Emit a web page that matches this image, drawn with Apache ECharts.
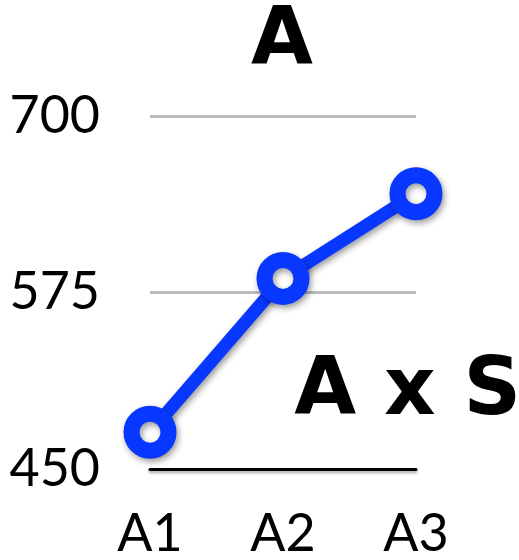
<!DOCTYPE html>
<html>
<head>
<meta charset="utf-8">
<script src="https://cdn.jsdelivr.net/npm/echarts@6/dist/echarts.min.js"></script>
<style>
  html, body { margin: 0; padding: 0; background: #fff; }
  #chart { width: 519px; height: 560px; }
</style>
</head>
<body>
<div id="chart"></div>
<script>
const categories = ['A1', 'A2', 'A3'];
const values = [476, 585, 645];
const titleText = 'A';
const noteText = 'A x S';

const chart = echarts.init(document.getElementById('chart'));

chart.setOption({
  animation: false,
  grid: { left: 150, right: 103, top: 116, bottom: 90 },
  xAxis: {
    type: 'category',
    data: categories,
    boundaryGap: false,
    axisLine: {
      lineStyle: { color: '#000', width: 3, shadowColor: 'rgba(0,0,0,0.35)', shadowBlur: 3, shadowOffsetY: 2 },
    },
    axisTick: { show: false },
    axisLabel: { color: '#000', fontSize: 52, fontFamily: 'Lato', margin: 39 },
  },
  yAxis: {
    type: 'value',
    min: 450,
    max: 700,
    interval: 125,
    axisLine: { show: false },
    axisTick: { show: false },
    axisLabel: { color: '#000', fontSize: 52, fontFamily: 'Lato', margin: 50 },
    splitLine: { lineStyle: { color: '#bbbbbb', width: 3 } },
  },
  graphic: [
    {
      type: 'text',
      x: 282,
      y: 43,
      style: {
        text: titleText,
        fill: '#000',
        font: 'bold 80px "DejaVu Sans"',
        align: 'center',
        verticalAlign: 'middle',
      },
    },
    {
      type: 'text',
      x: 521,
      y: 393,
      style: {
        text: noteText,
        fill: '#000',
        font: 'bold 80px "DejaVu Sans"',
        align: 'right',
        verticalAlign: 'middle',
      },
    },
  ],
  series: [
    {
      type: 'line',
      data: values,
      symbol: 'circle',
      symbolSize: 37,
      lineStyle: {
        color: '#0838ff',
        width: 13,
        shadowColor: 'rgba(0,0,0,0.4)',
        shadowBlur: 6,
        shadowOffsetX: 2,
        shadowOffsetY: 3,
      },
      itemStyle: {
        color: '#fff',
        borderColor: '#0838ff',
        borderWidth: 16,
        shadowColor: 'rgba(0,0,0,0.4)',
        shadowBlur: 6,
        shadowOffsetX: 2,
        shadowOffsetY: 3,
      },
    },
  ],
});
</script>
</body>
</html>
